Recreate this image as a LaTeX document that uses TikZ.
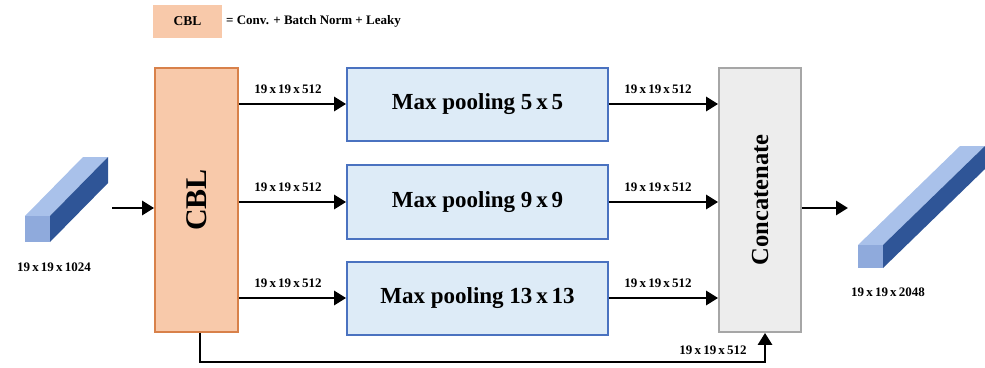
\documentclass[tikz,border=0pt]{standalone}
\usepackage{fontspec}
\setmainfont{Liberation Serif}
\usetikzlibrary{arrows.meta}
\definecolor{cblfill}{HTML}{F8C9AA}
\definecolor{cbldraw}{HTML}{D8814A}
\definecolor{poolfill}{HTML}{DDEBF7}
\definecolor{pooldraw}{HTML}{4A72C0}
\definecolor{catfill}{HTML}{EDEDED}
\definecolor{catdraw}{HTML}{A6A6A6}
\definecolor{cubefront}{HTML}{8FAADC}
\definecolor{cubetop}{HTML}{A9C1EA}
\definecolor{cubeside}{HTML}{2F5597}
\tikzset{
  cblbox/.style={draw=cbldraw, fill=cblfill, line width=1.8pt},
  poolbox/.style={draw=pooldraw, fill=poolfill, line width=1.8pt, font=\bfseries\fontsize{23}{26}\selectfont},
  catbox/.style={draw=catdraw, fill=catfill, line width=1.8pt},
  flow/.style={line width=2.8pt, -{Triangle[length=12pt,width=14pt]}},
  dimlabel/.style={font=\bfseries\fontsize{13}{15}\selectfont, inner sep=0pt},
}
\begin{document}
\begin{tikzpicture}[x=1pt,y=-1pt]
\useasboundingbox (0,0) rectangle (985,367);

% legend
\node[fill=cblfill, minimum width=69pt, minimum height=33pt, font=\bfseries\fontsize{13.5}{15}\selectfont] (leg) at (187.5,21.5) {CBL};
\node[anchor=west, font=\bfseries\fontsize{13}{15}\selectfont, inner sep=0pt] (legtxt) at (226,21) {= Conv. + Batch Norm + Leaky};

% main blocks
\node[cblbox, minimum width=83pt, minimum height=264pt, inner sep=0pt] (cbl) at (196.5,200) {};
\node[rotate=90, font=\bfseries\fontsize{30}{34}\selectfont] (cbltxt) at (cbl.center) {CBL};

\node[poolbox, minimum width=261pt, minimum height=73pt, inner sep=0pt] (p1) at (477.5,104.5) {Max pooling 5\,x\,5};
\node[poolbox, minimum width=261pt, minimum height=74pt, inner sep=0pt] (p2) at (477.5,202) {Max pooling 9\,x\,9};
\node[poolbox, minimum width=261pt, minimum height=73pt, inner sep=0pt] (p3) at (477.5,298.5) {Max pooling 13\,x\,13};

\node[catbox, minimum width=82pt, minimum height=264pt, inner sep=0pt] (cat) at (760,200) {};
\node[rotate=90, font=\bfseries\fontsize{24.5}{28}\selectfont] (cattxt) at (cat.center) {Concatenate};

% input tensor
\fill[cubetop] (25,216) -- (83,157) -- (108,157) -- (50,216) -- cycle;
\fill[cubeside] (50,216) -- (108,157) -- (108,183) -- (50,242) -- cycle;
\fill[cubefront] (25,216) rectangle (50,242);
\coordinate (inR) at (112,208);
\node[dimlabel] (inlbl) at (54,267) {19\,x\,19\,x\,1024};

% output tensor
\fill[cubetop] (858,245) -- (960,146) -- (985,146) -- (883,245) -- cycle;
\fill[cubeside] (883,245) -- (985,146) -- (985,169) -- (883,268) -- cycle;
\fill[cubefront] (858,245) rectangle (883,268);
\coordinate (outL) at (848,208);
\node[dimlabel] (outlbl) at (888,292) {19\,x\,19\,x\,2048};

% connectors
\draw[flow] (inR) -- (cbl.west |- inR);
\draw[flow] (cat.east |- outL) -- (outL);

\foreach \p/\yy in {p1/104, p2/202, p3/298}{
  \draw[flow] (cbl.east |- 0,\yy) -- (\p.west |- 0,\yy);
  \draw[flow] (\p.east |- 0,\yy) -- (cat.west |- 0,\yy);
  \node[dimlabel] at (288,\yy-15) {19\,x\,19\,x\,512};
  \node[dimlabel] at (658,\yy-15) {19\,x\,19\,x\,512};
}

\coordinate (skipA) at (200,362);
\coordinate (skipB) at (765,362);
\draw[flow] (cbl.south -| skipA) -- (skipA) -- (skipB) -- (cat.south -| skipB);
\node[dimlabel] (skiplbl) at (713,350) {19\,x\,19\,x\,512};
\end{tikzpicture}
\end{document}
